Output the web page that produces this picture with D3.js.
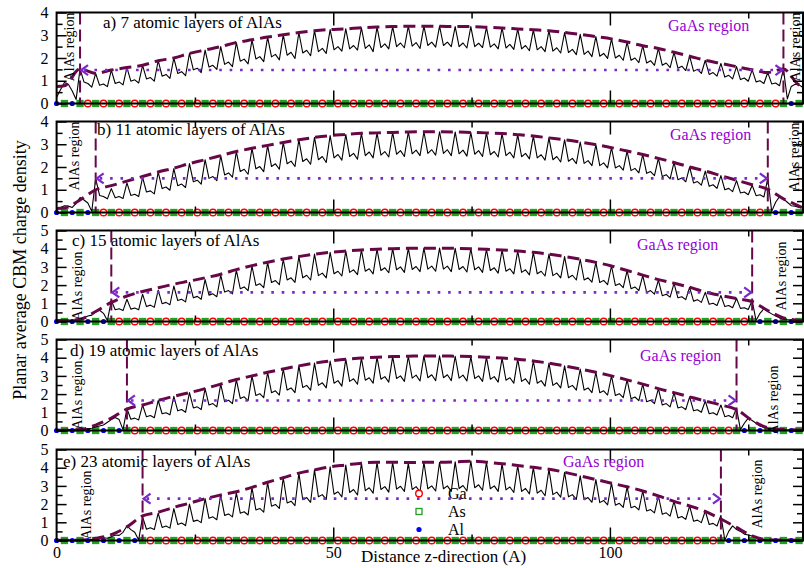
<!DOCTYPE html>
<html><head><meta charset="utf-8">
<script src="https://cdn.jsdelivr.net/npm/d3@7"></script>
<style>
body{margin:0;background:#fff}
svg{display:block}
text{font-family:"Liberation Serif","Times New Roman",serif}
</style>
</head><body>
<svg id="chart" width="804" height="568"></svg>
<script>
// Planar-averaged CBM charge density across GaAs/AlAs superlattices
const panelLabels = ["a) 7 atomic layers of AlAs", "b) 11 atomic layers of AlAs",
  "c) 15 atomic layers of AlAs", "d) 19 atomic layers of AlAs", "e) 23 atomic layers of AlAs"];
const yMax = [4, 4, 5, 5, 5];
// As planes that bound the GaAs well on each side (index of atomic plane)
const leftInterfaceSite = [3, 5, 7, 9, 11];
const rightInterfaceSite = [93, 91, 89, 87, 85];
// height of the GaAs-region double arrow
const arrowLevel = [1.47, 1.5, 1.6, 1.65, 2.3];
const siteSpacing = 1.4125;   // Å between neighbouring atomic planes
const siteCount = 96;
const zMax = 134.9;
const xTickValues = [0, 25, 50, 75, 100, 125];
const xTickLabels = [0, 50, 100];
const speciesNames = ["Ga", "As", "Al"];

// density sampled every half plane (0.706 Å), 192 samples per cell
const densityA = [0.27,0.6,0.92,0.85,0.55,0.18,
 1.52,0.95,0.88,0.72, 1.32,0.8,0.86,0.74, 1.47,0.88,0.95,0.82, 1.58,0.98,1.04,0.9,
 1.68,1.08,1.14,0.98, 1.88,1.2,1.28,1.1, 2.0,1.32,1.4,1.22, 2.2,1.48,1.55,1.36,
 2.35,1.6,1.68,1.5, 2.5,1.72,1.82,1.62, 2.68,1.86,1.95,1.74, 2.8,1.96,2.06,1.84,
 2.92,2.05,2.16,1.92, 3.02,2.12,2.25,1.98, 3.12,2.22,2.34,2.1, 3.2,2.28,2.42,2.2,
 3.25,2.36,2.5,2.3, 3.28,2.4,2.55,2.35, 3.33,2.42,2.58,2.28, 3.36,2.46,2.62,2.4,
 3.38,2.5,2.66,2.45, 3.4,2.52,2.68,2.42, 3.4,2.55,2.7,2.48, 3.4,2.55,2.7,2.5,
 3.38,2.5,2.66,2.44, 3.38,2.5,2.65,2.46, 3.35,2.48,2.62,2.4, 3.32,2.44,2.6,2.38,
 3.28,2.4,2.55,2.32, 3.24,2.36,2.5,2.28, 3.2,2.3,2.45,2.22, 3.12,2.24,2.38,2.15,
 3.04,2.16,2.3,2.06, 2.94,2.08,2.2,1.98, 2.84,2.0,2.12,1.9, 2.7,1.9,2.0,1.8,
 2.54,1.78,1.88,1.68, 2.42,1.68,1.78,1.58, 2.25,1.55,1.64,1.45, 2.08,1.42,1.5,1.32,
 1.9,1.28,1.36,1.2, 1.76,1.16,1.24,1.08, 1.62,1.05,1.12,0.98, 1.48,0.95,1.0,0.88,
 1.36,0.86,0.9,0.78, 1.52,0.2,0.75,0.85, 0.82,0.7];
const densityB = [0.2,0.22,0.3,0.28,0.22,0.4,0.66,0.55,0.42,0.05,
 1.49,0.75,0.7,0.6, 1.05,0.65,0.7,0.62, 1.3,0.75,0.8,0.7, 1.55,0.9,0.95,0.82,
 1.78,1.05,1.12,0.98, 1.93,1.18,1.25,1.1, 2.15,1.35,1.42,1.25, 2.32,1.5,1.58,1.4,
 2.5,1.65,1.74,1.55, 2.68,1.8,1.9,1.68, 2.82,1.92,2.02,1.8, 2.95,2.02,2.14,1.9,
 3.08,2.14,2.26,2.02, 3.2,2.24,2.36,2.12, 3.3,2.32,2.46,2.2, 3.38,2.4,2.55,2.3,
 3.43,2.46,2.6,2.34, 3.48,2.5,2.66,2.4, 3.5,2.52,2.68,2.44, 3.52,2.56,2.72,2.46,
 3.54,2.58,2.74,2.5, 3.55,2.6,2.76,2.52, 3.55,2.6,2.76,2.5, 3.54,2.58,2.74,2.48,
 3.52,2.56,2.72,2.46, 3.5,2.54,2.68,2.44, 3.47,2.5,2.65,2.4, 3.42,2.45,2.6,2.36,
 3.36,2.4,2.54,2.3, 3.28,2.32,2.46,2.22, 3.2,2.25,2.38,2.15, 3.1,2.16,2.28,2.06,
 2.98,2.06,2.18,1.96, 2.85,1.96,2.06,1.86, 2.7,1.84,1.94,1.74, 2.55,1.72,1.8,1.62,
 2.38,1.58,1.66,1.48, 2.2,1.44,1.52,1.35, 2.0,1.3,1.36,1.2, 1.82,1.15,1.22,1.06,
 1.62,1.0,1.06,0.92, 1.4,0.86,0.9,0.78, 1.2,0.74,0.78,0.68,
 1.5,0.05,0.45,0.7,0.6,0.45,0.3,0.28,0.22,0.2];
const densityC = [0.05,0.05,0.06,0.08,0.07,0.1,0.15,0.2,0.3,0.35,0.55,0.62,0.45,0.05,
 1.15,0.65,0.7,0.6, 1.22,0.68,0.74,0.64, 1.5,0.82,0.9,0.78, 1.72,0.98,1.05,0.92,
 1.95,1.15,1.22,1.08, 2.15,1.3,1.38,1.22, 2.3,1.45,1.52,1.36, 2.55,1.62,1.7,1.52,
 2.82,1.8,1.9,1.7, 3.05,1.98,2.08,1.86, 3.25,2.14,2.25,2.02, 3.42,2.28,2.4,2.15,
 3.57,2.4,2.54,2.28, 3.7,2.52,2.66,2.4, 3.8,2.62,2.76,2.5, 3.87,2.7,2.84,2.58,
 3.93,2.76,2.9,2.62, 3.97,2.8,2.95,2.68, 4.0,2.84,3.0,2.7, 4.02,2.86,3.02,2.74,
 4.03,2.88,3.04,2.76, 4.03,2.88,3.04,2.74, 4.02,2.86,3.02,2.72, 4.0,2.84,3.0,2.7,
 3.97,2.8,2.95,2.66, 3.93,2.76,2.9,2.62, 3.87,2.7,2.84,2.56, 3.8,2.62,2.76,2.5,
 3.7,2.52,2.66,2.4, 3.57,2.4,2.54,2.28, 3.42,2.28,2.4,2.16, 3.25,2.14,2.26,2.02,
 3.05,1.98,2.08,1.86, 2.8,1.8,1.9,1.7, 2.52,1.6,1.7,1.5, 2.27,1.42,1.5,1.34,
 2.1,1.3,1.36,1.2, 1.88,1.12,1.2,1.05, 1.6,0.95,1.0,0.88, 1.43,0.82,0.88,0.76,
 1.26,0.72,0.76,0.66,
 1.15,0.05,0.45,0.7,0.55,0.42,0.3,0.2,0.12,0.1,0.08,0.06,0.05,0.05];
const densityD = [0.03,0.03,0.04,0.04,0.05,0.05,0.06,0.08,0.1,0.12,0.2,0.25,0.3,0.45,0.6,0.72,0.6,0.05,
 1.2,0.62,0.68,0.58, 1.4,0.75,0.82,0.7, 1.65,0.92,0.98,0.86, 1.88,1.08,1.15,1.0,
 2.08,1.24,1.3,1.15, 2.3,1.4,1.48,1.3, 2.55,1.58,1.66,1.48, 2.8,1.76,1.85,1.64,
 3.0,1.92,2.02,1.8, 3.2,2.08,2.18,1.95, 3.38,2.22,2.34,2.08, 3.55,2.36,2.48,2.22,
 3.7,2.48,2.62,2.34, 3.82,2.6,2.74,2.44, 3.92,2.7,2.84,2.54, 3.98,2.76,2.9,2.6,
 4.03,2.82,2.96,2.66, 4.06,2.86,3.0,2.7, 4.08,2.88,3.04,2.72, 4.1,2.9,3.06,2.74,
 4.1,2.9,3.06,2.74, 4.08,2.88,3.04,2.72, 4.06,2.86,3.0,2.7, 4.03,2.82,2.96,2.66,
 3.98,2.76,2.9,2.6, 3.92,2.7,2.84,2.54, 3.82,2.6,2.74,2.44, 3.7,2.48,2.62,2.34,
 3.55,2.36,2.48,2.22, 3.38,2.22,2.34,2.08, 3.2,2.08,2.18,1.95, 3.0,1.92,2.02,1.8,
 2.78,1.75,1.84,1.64, 2.55,1.58,1.66,1.48, 2.3,1.4,1.48,1.3, 2.08,1.24,1.3,1.15,
 1.85,1.08,1.14,1.0, 1.62,0.92,0.98,0.85, 1.4,0.76,0.82,0.7,
 1.22,0.05,0.4,0.68,0.55,0.4,0.25,0.18,0.12,0.08,0.06,0.04,0.04,0.03,0.03,0.03,0.03,0.03];
const densityE = [0.02,0.02,0.02,0.02,0.02,0.03,0.03,0.03,0.04,0.05,0.06,0.1,0.15,0.12,0.2,0.3,0.28,0.45,0.8,0.6,0.45,0.03,
 1.3,0.62,0.7,0.6, 1.5,0.72,0.8,0.68, 1.75,0.88,0.96,0.82, 2.0,1.05,1.12,0.98,
 2.3,1.22,1.3,1.14, 2.5,1.38,1.46,1.3, 2.62,1.5,1.58,1.4, 2.9,1.68,1.76,1.56,
 3.2,1.88,1.98,1.76, 3.45,2.06,2.16,1.92, 3.7,2.24,2.36,2.1, 3.88,2.4,2.52,2.26,
 4.05,2.54,2.68,2.4, 4.15,2.64,2.8,2.5, 4.25,2.74,2.9,2.6, 4.3,2.8,2.96,2.66,
 4.3,2.82,2.98,2.7, 4.25,2.8,2.96,2.68, 4.3,2.84,3.0,2.72, 4.3,2.84,3.0,2.7,
 4.32,2.86,3.02,2.72, 4.38,2.9,3.06,2.76, 4.3,2.84,3.0,2.7, 4.22,2.78,2.94,2.64,
 4.12,2.7,2.86,2.56, 4.02,2.6,2.76,2.46, 3.92,2.52,2.66,2.38, 3.75,2.4,2.52,2.26,
 3.55,2.24,2.36,2.1, 3.35,2.08,2.2,1.96, 3.15,1.94,2.04,1.82, 2.95,1.8,1.88,1.68,
 2.72,1.62,1.7,1.52, 2.45,1.44,1.52,1.34, 2.15,1.24,1.32,1.16, 1.9,1.06,1.12,0.98,
 1.62,0.88,0.94,0.8,
 1.38,0.02,0.5,0.8,0.6,0.5,0.35,0.3,0.25,0.15,0.1,0.06,0.04,0.03,0.03,0.02,0.02,0.02,0.02,0.02,0.02,0.02];

// envelope: first value at z = 0, then one value on each As plane, last at z = zMax
const envelopeA = [0.75,0.78,1.52,1.32,1.47,1.58,1.68,1.88,2.0,2.2,2.35,2.5,2.68,2.8,2.92,3.02,3.12,3.2,3.25,3.28,
 3.33,3.36,3.38,3.4,3.4,3.4,3.38,3.38,3.35,3.32,3.28,3.24,3.2,3.12,3.04,2.94,2.84,2.7,2.54,2.42,
 2.25,2.08,1.9,1.76,1.62,1.48,1.36,1.52,0.82,0.78];
const envelopeB = [0.18,0.2,0.55,1.0,1.18,1.38,1.58,1.78,1.95,2.15,2.32,2.5,2.68,2.82,2.95,3.08,3.2,3.3,3.38,3.43,
 3.48,3.5,3.52,3.54,3.55,3.55,3.54,3.52,3.5,3.47,3.42,3.36,3.28,3.2,3.1,2.98,2.85,2.7,2.55,2.38,
 2.2,2.0,1.82,1.62,1.42,1.22,1.02,0.6,0.28,0.2];
const envelopeC = [0.05,0.05,0.12,0.55,1.05,1.4,1.65,1.85,2.05,2.22,2.4,2.6,2.85,3.07,3.26,3.43,3.57,3.7,3.8,3.87,
 3.93,3.97,4.0,4.02,4.03,4.03,4.02,4.0,3.97,3.93,3.87,3.8,3.7,3.57,3.42,3.25,3.05,2.8,2.55,2.3,
 2.1,1.88,1.62,1.43,1.26,1.1,0.6,0.2,0.07,0.05];
const envelopeD = [0.02,0.02,0.05,0.3,0.68,1.18,1.4,1.65,1.88,2.08,2.3,2.55,2.8,3.0,3.2,3.38,3.55,3.7,3.82,3.92,
 3.98,4.03,4.06,4.08,4.1,4.1,4.08,4.06,4.03,3.98,3.92,3.82,3.7,3.55,3.38,3.2,3.0,2.78,2.55,2.3,
 2.08,1.85,1.62,1.4,1.15,0.55,0.15,0.05,0.03,0.02];
const envelopeE = [0.02,0.02,0.02,0.12,0.32,0.75,1.35,1.55,1.82,2.05,2.3,2.5,2.68,2.92,3.2,3.45,3.7,3.88,4.05,4.15,
 4.25,4.3,4.3,4.28,4.3,4.3,4.32,4.36,4.3,4.22,4.12,4.02,3.92,3.75,3.55,3.35,3.15,2.95,2.72,2.45,
 2.15,1.9,1.6,1.18,0.72,0.25,0.05,0.03,0.02,0.02];

const densities = [densityA, densityB, densityC, densityD, densityE];
const envelopes = [envelopeA, envelopeB, envelopeC, envelopeD, envelopeE];

// ---- layout ----
const W = 804, H = 568;
const plotLeft = 56.6, plotRight = 803;
const panelTop = [12.5, 121.5, 230.5, 339.5, 449.5];
const panelHeight = 91;
const serif = '"Liberation Serif","Times New Roman",serif';
const colors = {Ga: "#ff0000", As: "#22a022", Al: "#0000ff", envelope: "#670748",
  arrow: "#7a28cc", region: "#9400d3"};
// where the "GaAs region" caption and the rotated "AlAs region" captions sit
const gaasCaption = [[668, 31], [670, 139.5], [637, 250], [640, 361], [563, 467]];
const alasCaptionLeft = [[74, 47], [79, 156], [82, 286], [82, 395], [91, 505]];
const alasCaptionRight = [[800, 47], [799, 157], [786, 276], [778, 400], [762, 494]];
const panelLabelPos = [[103, 28], [97, 134.5], [72, 246], [70, 356], [63, 467]];

const svg = d3.select("#chart");
svg.append("rect").attr("width", W).attr("height", H).attr("fill", "#fff");

const x = d3.scaleLinear().domain([0, zMax]).range([plotLeft, plotRight]);
const halfPlane = siteSpacing / 2;
const envZ = [0, ...d3.range(48).map(j => (2 * j + 1) * siteSpacing), zMax];

function speciesAt(site, p) {
  if (site % 2 === 1) return "As";
  return (site < leftInterfaceSite[p] || site > rightInterfaceSite[p]) ? "Al" : "Ga";
}

function drawMarker(g, type, cx, cy, legend) {
  if (type === "Ga") {
    g.append("circle").attr("cx", cx).attr("cy", cy).attr("r", 3.3)
      .attr("fill", "#fff").attr("stroke", colors.Ga).attr("stroke-width", 1.4);
  } else if (type === "As") {
    g.append("rect").attr("x", cx - 3).attr("y", cy - 3).attr("width", 6).attr("height", 6)
      .attr("fill", legend ? "#fff" : colors.As).attr("stroke", colors.As).attr("stroke-width", 1.3);
  } else {
    g.append("circle").attr("cx", cx).attr("cy", cy).attr("r", 2.6).attr("fill", colors.Al);
  }
}

panelTop.forEach((top, p) => {
  const bottom = top + panelHeight;
  const y = d3.scaleLinear().domain([0, yMax[p]]).range([bottom, top]);
  const g = svg.append("g");

  // atoms sitting on the z axis
  const atoms = g.append("g");
  d3.range(siteCount).forEach(s => drawMarker(atoms, speciesAt(s, p), x(s * siteSpacing), y(0), false));

  // charge density
  const dens = densities[p];
  g.append("path")
    .attr("d", d3.line().x((v, k) => x(k * halfPlane)).y(v => y(v))(dens))
    .attr("fill", "none").attr("stroke", "#000").attr("stroke-width", 1.1)
    .attr("stroke-linejoin", "round");

  // envelope of the density maxima
  const env = envelopes[p];
  g.append("path")
    .attr("d", d3.line().x((v, k) => x(envZ[k])).y(v => y(v)).curve(d3.curveMonotoneX)(env))
    .attr("fill", "none").attr("stroke", colors.envelope).attr("stroke-width", 3)
    .attr("stroke-dasharray", "12 6");

  // GaAs/AlAs interfaces
  const xl = x(leftInterfaceSite[p] * siteSpacing), xr = x(rightInterfaceSite[p] * siteSpacing);
  [xl, xr].forEach(xi => g.append("line").attr("x1", xi).attr("x2", xi).attr("y1", top).attr("y2", bottom)
    .attr("stroke", colors.envelope).attr("stroke-width", 2).attr("stroke-dasharray", "12 5"));

  // GaAs region double arrow
  const ya = y(arrowLevel[p]);
  g.append("line").attr("x1", xl + 4).attr("x2", xr - 4).attr("y1", ya).attr("y2", ya)
    .attr("stroke", colors.arrow).attr("stroke-width", 2.6).attr("stroke-dasharray", "2.6 7.8");
  g.append("path").attr("d", `M${xl + 8},${ya - 5}L${xl + 1},${ya}L${xl + 8},${ya + 5}`)
    .attr("fill", "none").attr("stroke", colors.arrow).attr("stroke-width", 2.2);
  g.append("path").attr("d", `M${xr - 8},${ya - 5}L${xr - 1},${ya}L${xr - 8},${ya + 5}`)
    .attr("fill", "none").attr("stroke", colors.arrow).attr("stroke-width", 2.2);

  // ticks (inward on all four sides)
  const yMajor = d3.range(0, yMax[p] + 0.01, 1);
  const yMinor = d3.range(0.5, yMax[p], 1);
  const tickStyle = sel => { sel.select(".domain").remove(); sel.selectAll("line").attr("stroke-width", 1.5); };
  g.append("g").attr("transform", `translate(${plotLeft},0)`)
    .call(d3.axisRight(y).tickValues(yMajor).tickSize(10).tickFormat("")).call(tickStyle);
  g.append("g").attr("transform", `translate(${plotLeft},0)`)
    .call(d3.axisRight(y).tickValues(yMinor).tickSize(6).tickFormat("")).call(tickStyle);
  g.append("g").attr("transform", `translate(${plotRight},0)`)
    .call(d3.axisLeft(y).tickValues(yMajor).tickSize(10).tickFormat("")).call(tickStyle);
  g.append("g").attr("transform", `translate(${plotRight},0)`)
    .call(d3.axisLeft(y).tickValues(yMinor).tickSize(6).tickFormat("")).call(tickStyle);
  const xMajor = xTickValues.filter(v => v % 50 === 0 && v > 0);
  const xMinor = xTickValues.filter(v => v % 50 !== 0);
  g.append("g").attr("transform", `translate(0,${bottom})`)
    .call(d3.axisTop(x).tickValues(xMajor).tickSize(13).tickFormat("")).call(tickStyle);
  g.append("g").attr("transform", `translate(0,${bottom})`)
    .call(d3.axisTop(x).tickValues(xMinor).tickSize(6).tickFormat("")).call(tickStyle);
  g.append("g").attr("transform", `translate(0,${top})`)
    .call(d3.axisBottom(x).tickValues(xMajor).tickSize(13).tickFormat("")).call(tickStyle);
  g.append("g").attr("transform", `translate(0,${top})`)
    .call(d3.axisBottom(x).tickValues(xMinor).tickSize(6).tickFormat("")).call(tickStyle);

  // y tick labels
  const yl = g.append("g").attr("transform", `translate(${plotLeft},0)`)
    .call(d3.axisLeft(y).tickValues(yMajor).tickSize(0).tickPadding(8).tickFormat(d3.format("d")));
  yl.select(".domain").remove();
  yl.selectAll("text").attr("font-family", serif).attr("font-size", 16).attr("fill", "#000");

  // frame
  g.append("rect").attr("x", plotLeft).attr("y", top).attr("width", plotRight - plotLeft).attr("height", panelHeight)
    .attr("fill", "none").attr("stroke", "#000").attr("stroke-width", 2);

  // captions
  g.append("text").attr("x", panelLabelPos[p][0]).attr("y", panelLabelPos[p][1])
    .attr("font-size", 17).text(panelLabels[p]);
  g.append("text").attr("x", gaasCaption[p][0]).attr("y", gaasCaption[p][1])
    .attr("font-size", 16).attr("fill", colors.region).text("GaAs region");
  [alasCaptionLeft[p], alasCaptionRight[p]].forEach(([cx, cy]) =>
    g.append("text").attr("transform", `translate(${cx},${cy}) rotate(-90)`)
      .attr("text-anchor", "middle").attr("font-size", 14).text("AlAs region"));

  // legend lives in the last panel
  if (p === 4) {
    const legendRows = [493.5, 511.5, 529.5];
    speciesNames.forEach((name, r) => {
      drawMarker(g, name, 419, legendRows[r], true);
      g.append("text").attr("x", 448).attr("y", legendRows[r] + 5.5).attr("font-size", 16).text(name);
    });
    const xl2 = g.append("g").attr("transform", `translate(0,${bottom})`)
      .call(d3.axisBottom(x).tickValues(xTickLabels).tickSize(0).tickPadding(6).tickFormat(d3.format("d")));
    xl2.select(".domain").remove();
    xl2.selectAll("text").attr("font-family", serif).attr("font-size", 16).attr("fill", "#000");
  }
});

svg.append("text").attr("x", 443.5).attr("y", 562).attr("text-anchor", "middle")
  .attr("font-size", 17).text("Distance z-direction (A)");
svg.append("text").attr("transform", "translate(26,270) rotate(-90)").attr("text-anchor", "middle")
  .attr("font-size", 18).text("Planar average CBM charge density");
</script>
</body></html>
